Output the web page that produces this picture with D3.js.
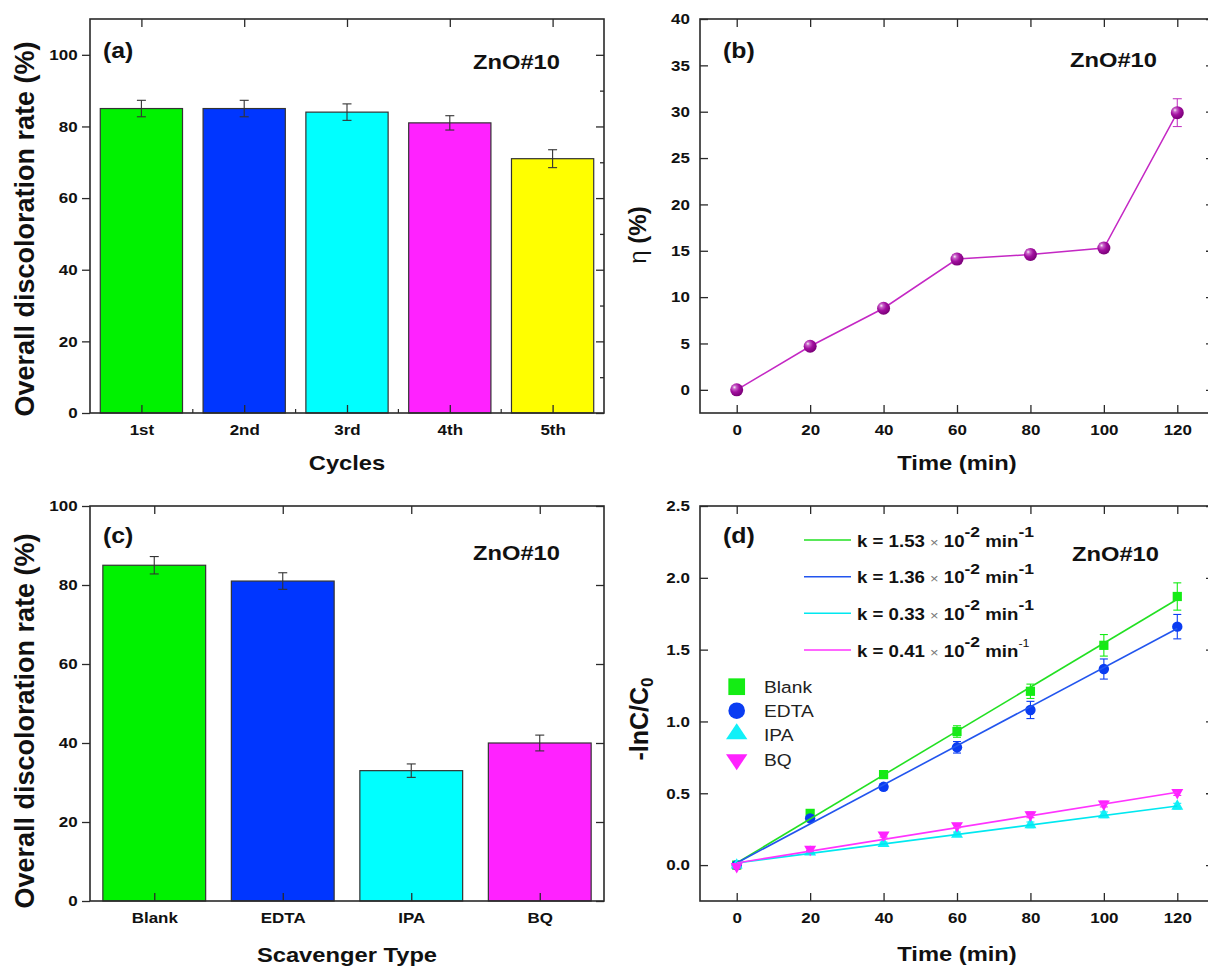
<!DOCTYPE html>
<html><head><meta charset="utf-8">
<script src="https://cdn.jsdelivr.net/npm/d3@7"></script>
<style>body{margin:0;background:#fff}svg{display:block}</style>
</head><body>
<script>
// ---------------- data ----------------
const cycles = ["1st", "2nd", "3rd", "4th", "5th"];
const cycleRate = [85, 85, 84, 81, 71];
const cycleErr = [2.3, 2.3, 2.3, 2.0, 2.5];

const scavengers = ["Blank", "EDTA", "IPA", "BQ"];
const scavRate = [85, 81, 33, 40];
const scavErr = [2.2, 2.1, 1.7, 2.0];

const timeMin = [0, 20, 40, 60, 80, 100, 120];
const eta = [0, 4.7, 8.8, 14.1, 14.6, 15.3, 29.9];
const etaErr = [0.3, 0.4, 0.4, 0.5, 0.5, 0.5, 1.5];

const lnBlank = [0, 0.36, 0.63, 0.93, 1.21, 1.53, 1.87];
const lnEDTA  = [0, 0.325, 0.545, 0.82, 1.08, 1.365, 1.66];
const lnIPA   = [0, 0.09, 0.15, 0.215, 0.28, 0.35, 0.41];
const lnBQ    = [-0.01, 0.11, 0.21, 0.275, 0.35, 0.425, 0.505];
const errBlank = [0.01, 0.02, 0.02, 0.04, 0.05, 0.075, 0.095];
const errEDTA  = [0.01, 0.02, 0.02, 0.04, 0.06, 0.07, 0.085];
const errIPA   = [0.01, 0.01, 0.01, 0.015, 0.02, 0.02, 0.02];
const errBQ    = [0.01, 0.01, 0.015, 0.015, 0.02, 0.02, 0.02];
const rateK = [1.53, 1.36, 0.33, 0.41];   // x 10^-2 min^-1
const fitIntercept = 0.015;

const barTicks = [0, 20, 40, 60, 80, 100];
const barMinor = [10, 30, 50, 70, 90];
const etaTicks = [0, 5, 10, 15, 20, 25, 30, 35, 40];
const lnTicks = [0, 0.5, 1.0, 1.5, 2.0, 2.5];
const timeTicks = [0, 20, 40, 60, 80, 100, 120];

// ---------------- styles ----------------
const cycleColors = ["#00f200", "#0036ff", "#00ffff", "#ff22ff", "#ffff00"];
const scavColors = ["#00f200", "#0036ff", "#00ffff", "#ff22ff"];
const seriesMarkerColors = ["#14ec14", "#0a3cf2", "#11f0f8", "#ff22ff"];
const seriesLineColors = ["#22e022", "#2255ee", "#00e8f0", "#ff33ff"];
const SX = 1.13;   // horizontal stretch of the reference's lettering
const FONT = "'Liberation Sans', Arial, sans-serif";
const INK = "#2a2a2a";

const W = 1208, H = 969;
const svg = d3.select("body").append("svg").attr("width", W).attr("height", H)
  .style("font-family", FONT);
svg.append("rect").attr("width", W).attr("height", H).attr("fill", "#fff");

const defs = svg.append("defs");
const rg = defs.append("radialGradient").attr("id", "ball")
  .attr("cx", "38%").attr("cy", "35%").attr("r", "65%").attr("fx", "32%").attr("fy", "30%");
rg.append("stop").attr("offset", "0%").attr("stop-color", "#f4f4f4");
rg.append("stop").attr("offset", "22%").attr("stop-color", "#c860c8");
rg.append("stop").attr("offset", "55%").attr("stop-color", "#a2109f");
rg.append("stop").attr("offset", "100%").attr("stop-color", "#7a0078");

function stext(g, x, y, str, o = {}) {
  return g.append("text")
    .attr("transform", `translate(${x},${y}) scale(${SX},1)`)
    .attr("text-anchor", o.anchor || "start")
    .attr("font-size", o.size || 15)
    .attr("font-weight", o.weight || "bold")
    .attr("fill", o.fill || "#111")
    .text(str);
}

function styleAxis(sel, labelSize) {
  sel.select(".domain").remove();
  sel.selectAll(".tick line").attr("stroke", INK).attr("stroke-width", 1.3);
  sel.selectAll(".tick text")
    .attr("font-size", labelSize || 15).attr("font-weight", "bold")
    .attr("fill", "#111").attr("font-family", FONT)
    .attr("transform", `scale(${SX},1)`);
}

function frame(g, L, R, T, B) {
  g.append("rect").attr("x", L).attr("y", T).attr("width", R - L).attr("height", B - T)
    .attr("fill", "none").attr("stroke", INK).attr("stroke-width", 1.6);
}

// ---------------- bar panels ----------------
function barPanel(cfg) {
  const { L, R, T, B, cats, vals, errs, colors, yMax, xTitle, tag, tagY, znY, yTitleY, minorBottom, minorRight } = cfg;
  const g = svg.append("g");
  const x = d3.scaleBand().domain(cats).range([L, R]).paddingInner(0.2).paddingOuter(0.1);
  const y = d3.scaleLinear().domain([0, yMax]).range([B, T]);

  g.selectAll("rect.bar").data(cats).join("rect").attr("class", "bar")
    .attr("x", d => x(d)).attr("width", x.bandwidth())
    .attr("y", (d, i) => y(vals[i])).attr("height", (d, i) => B - y(vals[i]))
    .attr("fill", (d, i) => colors[i]).attr("stroke", "#333").attr("stroke-width", 1.2);

  // error bars
  const eb = g.append("g").attr("stroke", "#333").attr("stroke-width", 1.1);
  cats.forEach((c, i) => {
    const cx = x(c) + x.bandwidth() / 2;
    eb.append("line").attr("x1", cx).attr("x2", cx).attr("y1", y(vals[i] + errs[i])).attr("y2", y(vals[i] - errs[i]));
    eb.append("line").attr("x1", cx - 4.5).attr("x2", cx + 4.5).attr("y1", y(vals[i] + errs[i])).attr("y2", y(vals[i] + errs[i]));
    eb.append("line").attr("x1", cx - 4.5).attr("x2", cx + 4.5).attr("y1", y(vals[i] - errs[i])).attr("y2", y(vals[i] - errs[i]));
  });

  const xc = d3.scalePoint().domain(cats).range([x(cats[0]) + x.bandwidth() / 2, x(cats[cats.length - 1]) + x.bandwidth() / 2]);
  g.append("g").attr("transform", `translate(0,${B})`)
    .call(d3.axisBottom(xc).tickSizeInner(-8).tickSizeOuter(0).tickPadding(11.4)).call(s => styleAxis(s));
  g.append("g").attr("transform", `translate(0,${T})`)
    .call(d3.axisTop(xc).tickSizeInner(-8).tickSizeOuter(0).tickFormat("")).call(s => styleAxis(s));
  if (minorBottom) {
    const bounds = d3.range(1, cats.length).map(i => L + (R - L) * i / cats.length);
    g.append("g").selectAll("line").data(bounds).join("line")
      .attr("x1", d => d).attr("x2", d => d).attr("y1", B).attr("y2", B - 4)
      .attr("stroke", INK).attr("stroke-width", 1.2);
  }
  g.append("g").attr("transform", `translate(${L},0)`)
    .call(d3.axisLeft(y).tickValues(barTicks).tickSizeInner(8).tickSizeOuter(0).tickPadding(3)).call(s => styleAxis(s));
  g.append("g").attr("transform", `translate(${R},0)`)
    .call(d3.axisRight(y).tickValues(barTicks).tickSizeInner(-8).tickSizeOuter(0).tickFormat("")).call(s => styleAxis(s));
  if (minorRight) {
    g.append("g").attr("transform", `translate(${R},0)`)
      .call(d3.axisRight(y).tickValues(barMinor).tickSizeInner(-4).tickSizeOuter(0).tickFormat("")).call(s => styleAxis(s));
  }
  frame(g, L, R, T, B);

  stext(g, L + 13, tagY, tag, { size: 22 });
  stext(g, 473, znY, "ZnO#10", { size: 21 });
  g.append("text").attr("transform", `translate(34,${yTitleY}) rotate(-90)`)
    .attr("text-anchor", "middle").attr("font-size", 27).attr("font-weight", "bold").attr("fill", "#111")
    .text("Overall discoloration rate (%)");
  stext(g, (L + R) / 2, B + cfg.xTitleOff, xTitle, { size: 21, anchor: "middle" });
}

barPanel({ L: 90, R: 604, T: 19, B: 413, cats: cycles, vals: cycleRate, errs: cycleErr, colors: cycleColors,
  yMax: 110, xTitle: "Cycles", xTitleOff: 57, tag: "(a)", tagY: 58, znY: 69, yTitleY: 229, minorBottom: true, minorRight: true });
barPanel({ L: 90, R: 604, T: 506, B: 901, cats: scavengers, vals: scavRate, errs: scavErr, colors: scavColors,
  yMax: 100, xTitle: "Scavenger Type", xTitleOff: 61, tag: "(c)", tagY: 543, znY: 560, yTitleY: 721, minorBottom: false, minorRight: false });

// ---------------- time panels ----------------
function timeAxes(g, x, y, L, R, T, B, yTicks, fmt) {
  g.append("g").attr("transform", `translate(0,${B})`)
    .call(d3.axisBottom(x).tickValues(timeTicks).tickSizeInner(-8).tickSizeOuter(0).tickPadding(11.4)).call(s => styleAxis(s));
  g.append("g").attr("transform", `translate(0,${T})`)
    .call(d3.axisTop(x).tickValues(timeTicks).tickSizeInner(-8).tickSizeOuter(0).tickFormat("")).call(s => styleAxis(s));
  g.append("g").attr("transform", `translate(${L},0)`)
    .call(d3.axisLeft(y).tickValues(yTicks).tickFormat(fmt).tickSizeInner(-8).tickSizeOuter(0).tickPadding(9)).call(s => styleAxis(s));
  g.append("g").attr("transform", `translate(${R},0)`)
    .call(d3.axisRight(y).tickValues(yTicks).tickSizeInner(-8).tickSizeOuter(0).tickFormat("")).call(s => styleAxis(s));
  frame(g, L, R, T, B);
}

// (b)
(function () {
  const L = 700, R = 1214, T = 19, B = 413;
  const g = svg.append("g");
  const x = d3.scaleLinear().domain([-10, 130]).range([L, R]);
  const y = d3.scaleLinear().domain([-2.5, 40]).range([B, T]);
  const pts = timeMin.map((t, i) => ({ t, v: eta[i], e: etaErr[i] }));
  g.append("path").datum(pts).attr("fill", "none").attr("stroke", "#c428c4").attr("stroke-width", 1.5)
    .attr("d", d3.line().x(d => x(d.t)).y(d => y(d.v)));
  const eb = g.append("g").attr("stroke", "#c43cc4").attr("stroke-width", 1.1);
  pts.forEach(d => {
    const cx = x(d.t);
    eb.append("line").attr("x1", cx).attr("x2", cx).attr("y1", y(d.v + d.e)).attr("y2", y(d.v - d.e));
    [d.v + d.e, d.v - d.e].forEach(v => eb.append("line").attr("x1", cx - 4.5).attr("x2", cx + 4.5).attr("y1", y(v)).attr("y2", y(v)));
  });
  g.selectAll("circle.ball").data(pts).join("circle").attr("class", "ball")
    .attr("cx", d => x(d.t)).attr("cy", d => y(d.v)).attr("r", 6.5).attr("fill", "url(#ball)");
  timeAxes(g, x, y, L, R, T, B, etaTicks, d3.format("d"));
  stext(g, 723, 58, "(b)", { size: 22 });
  stext(g, 1070, 67, "ZnO#10", { size: 21 });
  const yt = g.append("text").attr("transform", `translate(646,235) rotate(-90)`)
    .attr("text-anchor", "middle").attr("font-size", 24).attr("fill", "#111");
  yt.append("tspan").attr("font-weight", "normal").text("η");
  yt.append("tspan").attr("font-weight", "bold").text(" (%)");
  stext(g, (L + 1208) / 2 + 3, 470, "Time (min)", { size: 21, anchor: "middle" });
})();

// (d)
(function () {
  const L = 700, R = 1214, T = 506, B = 901;
  const g = svg.append("g");
  const x = d3.scaleLinear().domain([-10, 130]).range([L, R]);
  const y = d3.scaleLinear().domain([-0.25, 2.5]).range([B, T]);
  const series = [lnBlank, lnEDTA, lnIPA, lnBQ];
  const errs = [errBlank, errEDTA, errIPA, errBQ];
  const symbols = [d3.symbolSquare, d3.symbolCircle, d3.symbolTriangle, d3.symbolTriangle];
  const sizes = [85, 85, 62, 62];
  const rot = [0, 0, 0, 180];

  series.forEach((vals, si) => {
    const eb = g.append("g").attr("stroke", seriesMarkerColors[si]).attr("stroke-width", 1.1);
    timeMin.forEach((t, i) => {
      const cx = x(t), e = errs[si][i], v = vals[i];
      eb.append("line").attr("x1", cx).attr("x2", cx).attr("y1", y(v + e)).attr("y2", y(v - e));
      [v + e, v - e].forEach(vv => eb.append("line").attr("x1", cx - 4).attr("x2", cx + 4).attr("y1", y(vv)).attr("y2", y(vv)));
    });
    g.append("g").selectAll("path").data(timeMin).join("path")
      .attr("d", d3.symbol().type(symbols[si]).size(sizes[si]))
      .attr("transform", (t, i) => `translate(${x(t)},${y(vals[i])}) rotate(${rot[si]})`)
      .attr("fill", seriesMarkerColors[si]);
  });
  // fitted lines
  rateK.forEach((k, si) => {
    const fit = timeMin.map(t => ({ t, v: fitIntercept + k / 100 * t }));
    g.append("path").datum([fit[0], fit[fit.length - 1]]).attr("fill", "none")
      .attr("stroke", seriesLineColors[si]).attr("stroke-width", 1.6)
      .attr("d", d3.line().x(d => x(d.t)).y(d => y(d.v)));
  });
  timeAxes(g, x, y, L, R, T, B, lnTicks, d3.format(".1f"));

  // k legend
  const rowY = [540, 576.7, 613.3, 650];
  rateK.forEach((k, i) => {
    g.append("line").attr("x1", 804).attr("x2", 851).attr("y1", rowY[i]).attr("y2", rowY[i])
      .attr("stroke", seriesLineColors[i]).attr("stroke-width", 1.6);
    const t = g.append("text").attr("transform", `translate(857,${rowY[i] + 6.5}) scale(${SX},1)`)
      .attr("font-size", 16.5).attr("font-weight", "bold").attr("fill", "#111");
    t.append("tspan").text(`k = ${k.toFixed(2)} `);
    t.append("tspan").attr("font-weight", "normal").attr("font-size", 13).attr("fill", "#777").text("×");
    t.append("tspan").text(" 10");
    t.append("tspan").attr("dy", -9.5).attr("font-size", 15.5).text("-2");
    t.append("tspan").attr("dy", 9.5).text(" min");
    if (i === 3) t.append("tspan").attr("dy", -9.5).attr("font-size", 11).attr("font-weight", "normal").text("-1");
    else t.append("tspan").attr("dy", -9.5).attr("font-size", 15.5).text("-1");
  });
  // marker legend
  const legY = [686.7, 710.7, 734, 759.5];
  const legSizes = [279, 217, 150, 150];
  scavengers.forEach((name, i) => {
    g.append("path").attr("d", d3.symbol().type(symbols[i]).size(legSizes[i]))
      .attr("transform", `translate(736.7,${legY[i]}) rotate(${rot[i]}) scale(${i >= 2 ? 1.15 : 1},1)`)
      .attr("fill", seriesMarkerColors[i]);
    stext(g, 764, legY[i] + 6.6, name, { size: 17, weight: "normal", fill: "#222" });
  });

  stext(g, 723, 543, "(d)", { size: 22 });
  stext(g, 1072, 561, "ZnO#10", { size: 21 });
  const yt = g.append("text").attr("transform", `translate(648,719) rotate(-90)`)
    .attr("text-anchor", "middle").attr("font-size", 25).attr("font-weight", "bold").attr("fill", "#111");
  yt.append("tspan").text("-lnC/C");
  yt.append("tspan").attr("dy", 5).attr("font-size", 17).text("0");
  stext(g, (L + 1208) / 2 + 3, 961, "Time (min)", { size: 21, anchor: "middle" });
})();
</script>
</body></html>
